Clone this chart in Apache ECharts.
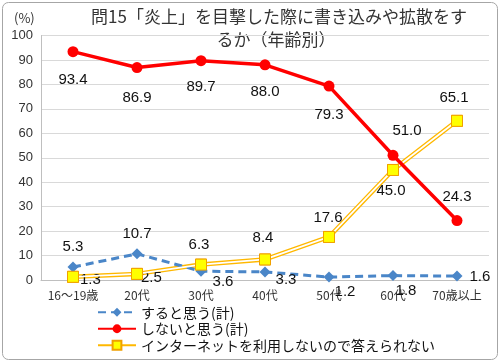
<!DOCTYPE html>
<html><head><meta charset="utf-8">
<script src="https://cdn.jsdelivr.net/npm/echarts@6/dist/echarts.min.js"></script>
<style>html,body{margin:0;padding:0;background:#fff}#c{width:500px;height:363px}</style>
</head><body><div id="c"></div>
<script>
const categories = ['16～19歳','20代','30代','40代','50代','60代','70歳以上'];
const seriesNames = ['すると思う(計)','しないと思う(計)','インターネットを利用しないので答えられない'];
const willPost = [5.3, 10.7, 3.6, 3.3, 1.2, 1.8, 1.6];
const wontPost = [93.4, 86.9, 89.7, 88.0, 79.3, 51.0, 24.3];
const noInternet = [1.3, 2.5, 6.3, 8.4, 17.6, 45.0, 65.1];
const yTicks = [0,10,20,30,40,50,60,70,80,90,100];
const titleLines = ['問15「炎上」を目撃した際に書き込みや拡散をす','るか（年齢別）'];

// label placement (styling only)
const bluePos = [['top',[0,-2]],['top',[0,-2]],['bottom',[22,-7]],['bottom',[21,-10]],['bottom',[16,-3]],['bottom',[13,-3]],['right',[2,1]]];
const redPos = [['bottom',[0,10]],['bottom',[0,12]],['bottom',[0,8]],['bottom',[0,9]],['bottom',[0,11]],['top',[14,-6]],['top',[0,-6]]];
const yelPos = [['right',[-4,3]],['right',[-7,4]],['top',[-2,-1]],['top',[-2,-3]],['top',[-1,-1]],['bottom',[-2,2]],['top',[-3,-4]]];

const labelFont = {fontFamily:'Liberation Sans, Arial, sans-serif', fontSize:15, color:'#111'};
function items(vals, pos){
  return vals.map((v,i)=>({value:v, label:{show:true, position:pos[i][0], offset:pos[i][1], formatter:(p)=>p.value.toFixed(1), ...labelFont}}));
}
const titleFont = '17px "Noto Sans CJK JP", sans-serif';

const chart = echarts.init(document.getElementById('c'));
chart.setOption({
  animation:false,
  graphic:[
    {type:'rect', shape:{x:2.5,y:2.5,width:495,height:357,r:6}, style:{fill:'none',stroke:'#a6a6a6',lineWidth:1}, z:-1},
    {type:'text', left:14, top:12, style:{text:'(%)', font:'13px "Noto Sans CJK JP", sans-serif', fill:'#333'}},
    {type:'text', x:279, y:17, style:{text:titleLines[0], font:titleFont, fill:'#333', align:'center', verticalAlign:'middle'}},
    {type:'text', x:276, y:40, style:{text:titleLines[1], font:titleFont, fill:'#333', align:'center', verticalAlign:'middle'}}
  ],
  grid:{left:41, right:11, top:35.5, bottom:83, containLabel:false},
  legend:{
    orient:'vertical', left:97, top:304, padding:0, height:60, itemGap:0, itemWidth:38, itemHeight:11,
    textStyle:{fontFamily:'"Noto Sans CJK JP", sans-serif', fontSize:14, color:'#111', lineHeight:16.5, height:16.5},
    data:seriesNames
  },
  xAxis:{
    type:'category', data:categories, boundaryGap:true,
    axisLine:{lineStyle:{color:'#bfbfbf'}}, axisTick:{show:false},
    axisLabel:{fontFamily:'"Noto Sans CJK JP", sans-serif', fontSize:12, color:'#333', margin:9, interval:0}
  },
  yAxis:{
    type:'value', min:yTicks[0], max:yTicks[yTicks.length-1], interval:10,
    axisLine:{show:true, lineStyle:{color:'#bfbfbf'}}, axisTick:{show:false},
    splitLine:{lineStyle:{color:'#d9d9d9'}},
    axisLabel:{fontFamily:'Liberation Sans, Arial, sans-serif', fontSize:13, color:'#333', margin:8}
  },
  series:[
    {name:seriesNames[0], type:'line', data:items(willPost, bluePos), symbol:'diamond', symbolSize:11,
     lineStyle:{color:'#4a86c8', width:3, type:[8,5]}, itemStyle:{color:'#4a86c8'}, z:3},
    {name:seriesNames[1], type:'line', data:items(wontPost, redPos), symbol:'circle', symbolSize:11,
     lineStyle:{color:'#ff0000', width:3.5}, itemStyle:{color:'#ff0000'}, z:6},
    {name:seriesNames[2], type:'line', data:items(noInternet, yelPos), symbol:'rect', symbolSize:11,
     lineStyle:{color:'#ffb800', width:4.5}, itemStyle:{color:'#ffff00', borderColor:'#f0a000', borderWidth:1}, z:2},
    {name:'_inner', type:'line', data:noInternet, symbol:'none', silent:true,
     lineStyle:{color:'#ffffff', width:1.8}, z:4},
    {name:'_markers', type:'line', data:noInternet, symbol:'rect', symbolSize:11, silent:true,
     lineStyle:{width:0, opacity:0}, itemStyle:{color:'#ffff00', borderColor:'#f0a000', borderWidth:1}, z:5}
  ]
});
</script></body></html>
